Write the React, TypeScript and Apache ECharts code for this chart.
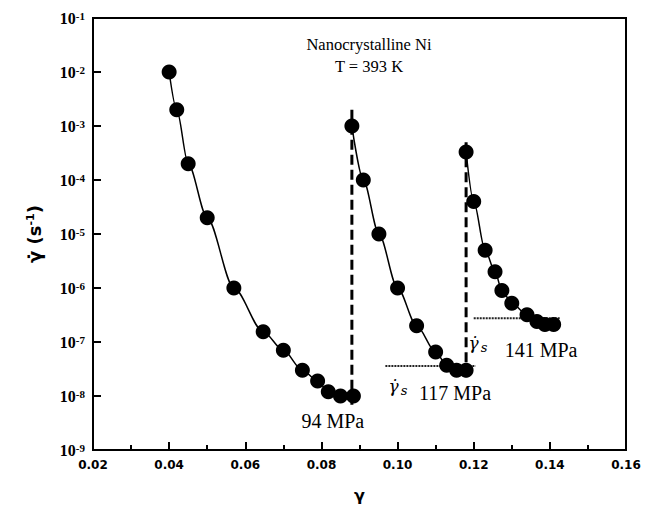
import React, { useEffect, useRef } from "react";
import * as echarts from "echarts";

// strain values (gamma) and strain rates for the three relaxation segments
const seg1X = [0.04, 0.042, 0.045, 0.05, 0.057, 0.0647, 0.07, 0.075, 0.079, 0.0818, 0.085, 0.0884];
const seg1Y = [1e-2, 2e-3, 2e-4, 2e-5, 1e-6, 1.55e-7, 7e-8, 3e-8, 1.9e-8, 1.2e-8, 1.0e-8, 1.0e-8];
const seg2X = [0.088, 0.091, 0.0951, 0.1, 0.105, 0.11, 0.1129, 0.1155, 0.118];
const seg2Y = [1e-3, 1e-4, 1e-5, 1e-6, 2e-7, 6.5e-8, 3.7e-8, 3.0e-8, 3.0e-8];
const seg3X = [0.118, 0.12, 0.123, 0.1256, 0.1274, 0.13, 0.134, 0.1366, 0.1387, 0.141];
const seg3Y = [3.3e-4, 4e-5, 5e-6, 2e-6, 9e-7, 5.2e-7, 3.2e-7, 2.4e-7, 2.1e-7, 2.1e-7];

// vertical dashed stress-jump lines: [x, yTop, yBottom]
const jumpLines = [
  [0.088, 2e-3, 6e-9],
  [0.118, 5e-4, 1.85e-8],
];
// horizontal dotted steady-state lines: [xStart, xEnd, y]
const steadyLines = [
  [0.0968, 0.1205, 3.6e-8],
  [0.12, 0.1427, 2.76e-7],
];
// stress labels
const stressLabels = ["94 MPa", "117 MPa", "141 MPa"];
const stressLabelX = [0.083, 0.1151, 0.1377];
const stressLabelY = [3.5e-9, 1.15e-8, 7.1e-8];
// steady-state rate labels
const rateLabelX = [0.1001, 0.1211];
const rateLabelY = [1.55e-8, 9.5e-8];

const xTickMin = 0.02;
const xTickMax = 0.16;
const xTickInterval = 0.02;
const yMin = 1e-9;
const yMax = 1e-1;

const zip = (xs: number[], ys: number[]) => xs.map((x, i) => [x, ys[i]]);

export default function App() {
  const ref = useRef<HTMLDivElement>(null);
  useEffect(() => {
    document.body.style.margin = "0";
    if (!ref.current) return;
    const chart = echarts.init(ref.current, undefined, { renderer: "svg" });
    const curve = (xs: number[], ys: number[]) => ({
      type: "line",
      data: zip(xs, ys),
      smooth: 0.3,
      smoothMonotone: "x",
      symbol: "circle",
      symbolSize: 15,
      itemStyle: { color: "#000" },
      lineStyle: { color: "#000", width: 1.5 },
      z: 5,
    });
    const series: any[] = [
      curve(seg1X, seg1Y),
      curve(seg2X, seg2Y),
      curve(seg3X, seg3Y),
      ...jumpLines.map((l) => ({
        type: "line",
        data: [
          [l[0], l[1]],
          [l[0], l[2]],
        ],
        symbol: "none",
        lineStyle: { color: "#000", width: 3, type: [10, 5] },
        z: 3,
      })),
      ...steadyLines.map((l) => ({
        type: "line",
        data: [
          [l[0], l[2]],
          [l[1], l[2]],
        ],
        symbol: "none",
        lineStyle: { color: "#222", width: 2, type: [2, 1] },
        z: 3,
      })),
    ];
    chart.setOption({
      animation: false,
      title: {
        text: "Nanocrystalline Ni\nT = 393 K",
        left: 364,
        top: 28,
        textAlign: "center",
        textStyle: {
          fontFamily: "Liberation Serif",
          fontSize: 16.5,
          fontWeight: "normal",
          color: "#000",
          lineHeight: 22,
        },
      },
      grid: {
        left: 93,
        top: 18,
        right: 25,
        bottom: 60,
        show: true,
        borderColor: "#000",
        borderWidth: 2,
      },
      xAxis: {
        type: "value",
        min: xTickMin,
        max: xTickMax,
        interval: xTickInterval,
        name: "γ",
        nameLocation: "middle",
        nameGap: 37,
        nameTextStyle: { fontFamily: "DejaVu Sans", fontWeight: "bold", fontSize: 16, color: "#000" },
        axisLine: { lineStyle: { color: "#000", width: 2 } },
        axisTick: { inside: true, length: 8, lineStyle: { color: "#000", width: 2 } },
        minorTick: { show: true, splitNumber: 2, length: 5, lineStyle: { color: "#000", width: 2 } },
        splitLine: { show: false },
        axisLabel: {
          formatter: (v: number) => v.toFixed(2),
          fontFamily: "DejaVu Sans",
          fontWeight: "bold",
          fontSize: 12,
          color: "#000",
          margin: 9,
        },
      },
      yAxis: {
        type: "log",
        logBase: 10,
        min: yMin,
        max: yMax,
        splitNumber: 8,
        name: "{a|γ̇ (s}{b|-1}{a|)}",
        nameLocation: "middle",
        nameGap: 50,
        nameRotate: 90,
        nameTextStyle: {
          rich: {
            a: { fontFamily: "DejaVu Sans", fontWeight: "bold", fontSize: 18, color: "#000" },
            b: { fontFamily: "DejaVu Sans", fontWeight: "bold", fontSize: 11, color: "#000", verticalAlign: "top" },
          },
        },
        axisLine: { lineStyle: { color: "#000", width: 2 } },
        axisTick: { inside: true, length: 8, lineStyle: { color: "#000", width: 2 } },
        splitLine: { show: false },
        axisLabel: {
          margin: 8,
          formatter: (v: number) => `{b|10}{s|${Math.round(Math.log10(v))}}`,
          rich: {
            b: { fontFamily: "Liberation Serif", fontWeight: "bold", fontSize: 16, color: "#000" },
            s: { fontFamily: "Liberation Serif", fontWeight: "bold", fontSize: 11, color: "#000", verticalAlign: "top" },
          },
        },
      },
      series,
    });
    const toPx = (x: number, y: number) => chart.convertToPixel({ gridIndex: 0 }, [x, y]) as number[];
    const graphic: any[] = [
      ...stressLabels.map((t, i) => {
        const p = toPx(stressLabelX[i], stressLabelY[i]);
        return {
          type: "text",
          x: p[0],
          y: p[1],
          z: 10,
          style: {
            text: t,
            fill: "#000",
            font: "20px 'Liberation Serif'",
            textAlign: "center",
            textVerticalAlign: "middle",
          },
        };
      }),
      ...rateLabelX.map((x, i) => {
        const p = toPx(x, rateLabelY[i]);
        return {
          type: "text",
          x: p[0],
          y: p[1],
          z: 10,
          style: {
            text: "{g|γ̇}{s|s}",
            fill: "#000",
            textAlign: "center",
            textVerticalAlign: "middle",
            rich: {
              g: { font: "italic 17px 'DejaVu Serif'", fill: "#000" },
              s: { font: "italic 13px 'DejaVu Serif'", fill: "#000", padding: [9, 0, 0, 2] },
            },
          },
        };
      }),
    ];
    chart.setOption({ graphic });
    return () => chart.dispose();
  }, []);
  return <div ref={ref} style={{ width: 651, height: 510 }} />;
}
